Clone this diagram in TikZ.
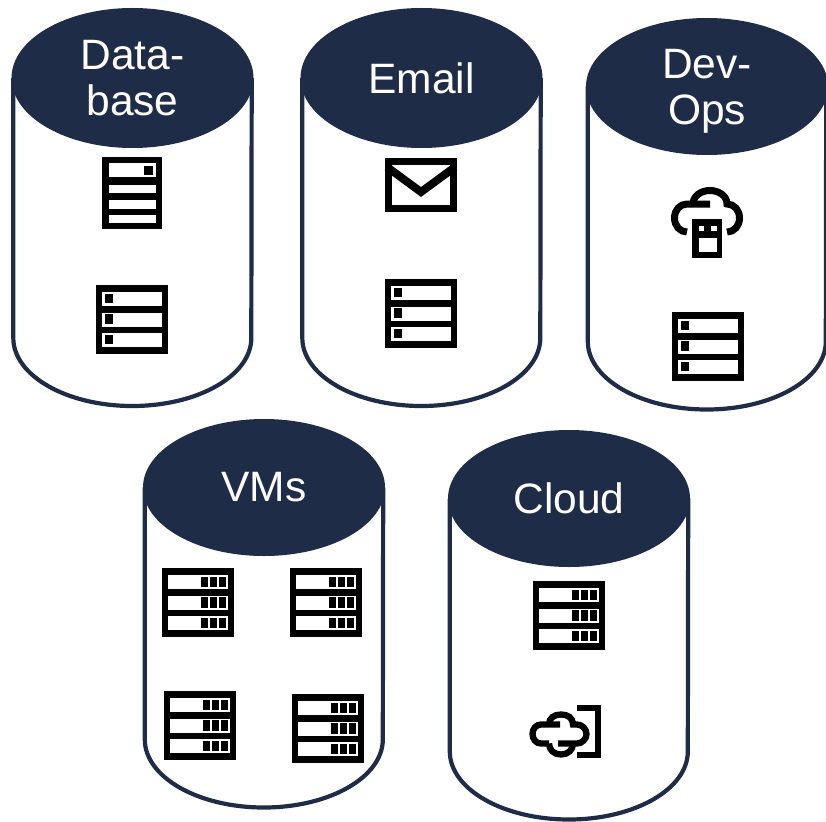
\documentclass[tikz,border=0pt]{standalone}
\usepackage{fontspec}
\setmainfont{Liberation Sans}
\usetikzlibrary{positioning,shapes.geometric}
\definecolor{headnavy}{HTML}{1F2C48}

\begin{document}
\begin{tikzpicture}[
      x=1pt,
      y=-1pt,
      head/.style={
          ellipse,
          fill=headnavy,
          text=white,
          inner sep=0pt,
          minimum width=242pt,
          minimum height=137pt,
          align=center,
          font=\fontsize{42.5}{46}\selectfont
        },
      body/.style={
          draw=headnavy,
          line width=4.2pt
        },
      slotleft/.pic={
          \fill[white] (6.3,0.5) rectangle (65.7,14.5);
          \fill[black] (8.5,2) rectangle (17,11.5);
        },
      slotright/.pic={
          \fill[white] (6.3,0.5) rectangle (65.7,14.5);
          \fill[black] (39,2) rectangle (45.5,12.5);
          \fill[black] (48,2) rectangle (54.5,12.5);
          \fill[black] (57,2) rectangle (63.5,12.5);
        },
      rackleft/.pic={
          \fill[black] (0,0) rectangle (72,69);
          \pic at (0,6.5) {slotleft};
          \pic at (0,27) {slotleft};
          \pic at (0,47.5) {slotleft};
        },
      rackright/.pic={
          \fill[black] (0,0) rectangle (72,69);
          \pic at (0,6.5) {slotright};
          \pic at (0,27) {slotright};
          \pic at (0,47.5) {slotright};
        },
      dbstack/.pic={
          \fill[black] (0,0) rectangle (60,72);
          \fill[white] (6.5,6.5) rectangle (53.5,19.5);
          \fill[white] (6.5,27.5) rectangle (53.5,35.5);
          \fill[white] (6.5,42.5) rectangle (53.5,51.5);
          \fill[white] (6.5,57.5) rectangle (53.5,65.5);
          \fill[black] (42,9) rectangle (51,18);
        },
      envelope/.pic={
          \draw[black, line width=7pt] (3.5,3.5) rectangle (68.5,50.5);
          \draw[black, line width=8pt] (2,9) -- (36,34) -- (70,9);
        },
      cloudbox/.pic={
          \draw[black, line width=7pt] (16,45) .. controls (9,45) and (3.5,39) .. (3.5,31)
            .. controls (3.5,23) and (9,17) .. (16,17) -- (39,17);
          \draw[black, line width=7pt] (22,17) .. controls (22,9) and (30,3.5) .. (39,3.5)
            .. controls (48,3.5) and (56,9) .. (56,17)
            .. controls (63,17) and (68.5,23) .. (68.5,31)
            .. controls (68.5,39) and (63,45) .. (56,45);
          \fill[black] (21,32) rectangle (51,71);
          \fill[white] (27.5,38.5) rectangle (33,44);
          \fill[white] (40,38.5) rectangle (45.5,44);
          \fill[white] (27.5,50.5) rectangle (45.5,64.5);
        },
      cloudgate/.pic={
          \draw[black, line width=6.5pt] (48,3.2) -- (68.8,3.2) -- (68.8,49.8) -- (48,49.8);
          \draw[black, line width=6.3pt] (31,19.5) -- (12,19.5)
            .. controls (7,19.5) and (3.5,24) .. (3.5,29)
            .. controls (3.5,34) and (7,38.5) .. (12,38.5) -- (20,38.5);
          \draw[black, line width=6.3pt] (20,19.5) .. controls (20,13) and (25,9.5) .. (32,9.5)
            .. controls (39,9.5) and (44,13) .. (44,19.5) -- (48,19.5)
            .. controls (53,19.5) and (57.5,24) .. (57.5,29)
            .. controls (57.5,34) and (53,38.5) .. (48,38.5) -- (29,38.5);
          \draw[black, line width=6.3pt] (20,38.5) .. controls (20,45) and (25,49.5) .. (32,49.5)
            .. controls (39,49.5) and (44,45) .. (44,38.5);
        }
    ]
    \useasboundingbox (0,0) rectangle (826,821);

    % Cylinder heads
    \node[head, minimum height=140pt] at (132.5,78) (database) {Data-\\base};
    \node[head, minimum height=140pt] at (421.5,78) (email)    {Email};
    \node[head] at (707,86.5)  (devops) {Dev-\\\smash{Ops}};
    \node[head] at (264,487.5) (vms)    {VMs};
    \node[head] at (569,498.5) (cloud)  {Cloud};

    % Cylinder bodies from west edge round to east edge
    \draw[body] ([xshift=2pt]database.west) -- ++(0,260)
    arc[start angle=180, end angle=360, x radius=119pt, y radius=68pt]
    -- ([xshift=-2pt]database.east);
    \draw[body] ([xshift=2pt]email.west) -- ++(0,260)
    arc[start angle=180, end angle=360, x radius=119pt, y radius=68pt]
    -- ([xshift=-2pt]email.east);
    \draw[body] ([xshift=2pt]devops.west) -- ++(0,255)
    arc[start angle=180, end angle=360, x radius=119pt, y radius=68pt]
    -- ([xshift=-2pt]devops.east);
    \draw[body] ([xshift=2pt]vms.west) -- ++(0,252)
    arc[start angle=180, end angle=360, x radius=119pt, y radius=68pt]
    -- ([xshift=-2pt]vms.east);
    \draw[body] ([xshift=2pt]cloud.west) -- ++(0,253)
    arc[start angle=180, end angle=360, x radius=119pt, y radius=68pt]
    -- ([xshift=-2pt]cloud.east);

    % Icons at explicit positions
    \pic (dbicon)    at (102,157) {dbstack};
    \pic (dbrack)    at (96,285)  {rackleft};
    \pic (mailicon)  at (385,158) {envelope};
    \pic (mailrack)  at (385,279) {rackleft};
    \pic (devicon)   at (671,187) {cloudbox};
    \pic (devrack)   at (672,312) {rackleft};
    \pic (vmrackA)   at (162,568) {rackright};
    \pic (vmrackB)   at (290,568) {rackright};
    \pic (vmrackC)   at (164,691) {rackright};
    \pic (vmrackD)   at (292,694) {rackright};
    \pic (cloudrack) at (533,581) {rackright};
    \pic (cloudicon) at (529,705) {cloudgate};
  \end{tikzpicture}
\end{document}
